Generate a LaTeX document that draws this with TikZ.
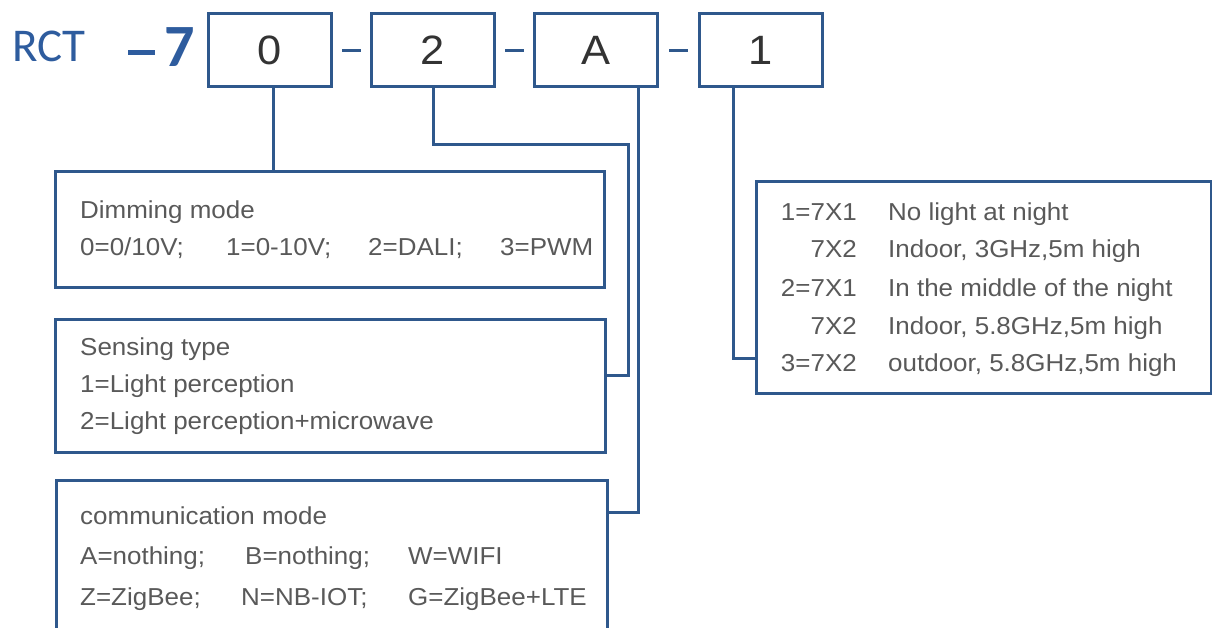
\documentclass[tikz,border=0pt]{standalone}
\usepackage{fontspec}
\setmainfont{Liberation Sans}[FakeStretch=1.06]
\newfontfamily\brandfont{Carlito}
\usepackage{xcolor}
\usetikzlibrary{calc,positioning}
\definecolor{frameblue}{HTML}{2F588C}
\definecolor{brandblue}{HTML}{2E5C9E}
\definecolor{textgray}{HTML}{595959}
\definecolor{digitgray}{HTML}{333333}

\begin{document}
\begin{tikzpicture}[x=1pt,y=-1pt,
		codebox/.style={draw=frameblue,line width=3pt,minimum width=123pt,minimum height=73pt,inner sep=0pt,text=digitgray,font=\fontsize{41}{41}\selectfont},
		infobox/.style={draw=frameblue,line width=3pt,inner sep=0pt},
		sepdash/.style={fill=frameblue,minimum width=19pt,minimum height=3pt,inner sep=0pt},
		txt/.style={anchor=base west,inner sep=0pt,text=textgray,font=\fontsize{24.5}{24.5}\selectfont},
		link/.style={draw=frameblue,line width=3pt}]
	\useasboundingbox (0,0) rectangle (1212,628);
	\clip (0,0) rectangle (1212,628);
	% part number
	\node[anchor=base west,inner sep=0pt,text=brandblue,font=\brandfont\fontsize{47}{47}\selectfont] (rct) at (12,62) {RCT};
	\node[anchor=base west,inner sep=0pt,text=brandblue,font=\brandfont\bfseries\fontsize{60}{60}\selectfont] (seven) at (128,67) {\rule[11.5pt]{27pt}{5pt}\kern9pt 7};
	\foreach \name/\x/\t in {b0/269.5/0, b2/433/2, bA/596/A, b1/760.5/1} {
		\node[codebox] (\name) at (\x,50.5) {\t};
	};
	\foreach \a/\b in {b0/b2, b2/bA, bA/b1} {
		\node[sepdash] (dash\a) at ($(\a.east)!0.5!(\b.west)$) {};
	};
	
	% option boxes
	\node[infobox,minimum width=549pt,minimum height=115pt] (dim) at (329.5,229.5) {};
	\node[infobox,minimum width=550pt,minimum height=133pt] (sens) at (330,385.5) {};
	\node[infobox,minimum width=551pt,minimum height=180pt] (comm) at (331.5,570) {};
	\node[infobox,minimum width=455pt,minimum height=211pt] (opts) at (983.5,287.5) {};
	
	\node[txt] (dimT) at ($(dim.north west)+(26.5,48.5)$) {Dimming mode};
	\foreach \x/\t [count=\i] in {26.5/{0=0/10V;}, 172.5/{1=0-10V;}, 314.5/{2=DALI;}, 446.5/{3=PWM}} {
		\node[txt] (dim\i) at ($(dim.north west)+(\x,85.5)$) {\t};
	};
	\node[txt] (sensT) at ($(sens.north west)+(26.5,37.5)$) {Sensing type};
	\node[txt] (sens1) at ($(sens.north west)+(26.5,74.5)$) {1=Light perception};
	\node[txt] (sens2) at ($(sens.north west)+(26.5,111.5)$) {2=Light perception+microwave};
	\node[txt] (commT) at ($(comm.north west)+(25.5,45.5)$) {communication mode};
	\foreach \x/\t [count=\i] in {25.5/{A=nothing;}, 190.5/{B=nothing;}, 353.5/{W=WIFI}} {
		\node[txt] (commA\i) at ($(comm.north west)+(\x,85.5)$) {\t};
	};
	\foreach \x/\t [count=\i] in {25.5/{Z=ZigBee;}, 186.5/{N=NB-IOT;}, 353.5/{G=ZigBee+LTE}} {
		\node[txt] (commB\i) at ($(comm.north west)+(\x,126.5)$) {\t};
	};
	\foreach \y/\k/\t [count=\i] in {40.5/{1=7X1}/{No light at night}, 77.5/{7X2}/{Indoor, 3GHz,5m high},
			115.5/{2=7X1}/{In the middle of the night}, 153.5/{7X2}/{Indoor, 5.8GHz,5m high},
			190.5/{3=7X2}/{outdoor, 5.8GHz,5m high}} {
		\node[txt,anchor=base east] (key\i) at ($(opts.north west)+(102.5,\y)$) {\k};
		\node[txt] (val\i) at ($(opts.north west)+(133.5,\y)$) {\t};
	};
	
	% connectors
	\coordinate (bend2) at (628,145);
	\draw[link] ($(b0.south)+(3.5,0)$) coordinate (c0) -- (c0 |- dim.north);
	\draw[link] (b2.south) |- (bend2) |- ($(sens.north east)+(0,57.5)$);
	\draw[link] ($(bA.south east)+(-20.5,0)$) |- ($(comm.north east)+(0,33.5)$);
	\draw[link] ($(b1.south west)+(35.5,0)$) |- ($(opts.north west)+(0,178)$);
\end{tikzpicture}
\end{document}
